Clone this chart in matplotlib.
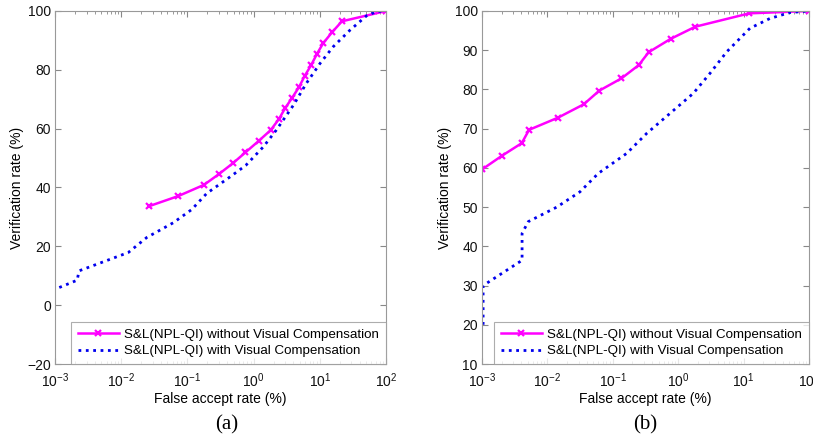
import matplotlib
matplotlib.use("Agg")
import matplotlib.pyplot as plt
from matplotlib.ticker import LogLocator, FixedLocator

# (a) without visual compensation
far_a_wo = [0.026, 0.073, 0.178, 0.297, 0.49, 0.75, 1.19, 1.81, 2.42, 2.98, 3.8,
            4.9, 5.9, 7.4, 9.0, 11.2, 15.5, 21.6, 100]
vr_a_wo = [33.6, 37.1, 40.9, 44.5, 48.3, 51.9, 55.8, 59.5, 63.3, 66.9, 70.4,
           74.3, 77.9, 81.6, 85.3, 89.0, 92.9, 96.5, 100]
# (a) with visual compensation
far_a_w = [0.00116, 0.00217, 0.00225, 0.00233, 0.0128, 0.0243, 0.061, 0.116, 0.196,
           0.44, 0.76, 1.4, 2.2, 4.0, 6.3, 10.1, 16, 28.6, 51, 72, 100]
vr_a_w = [6.0, 8.5, 10.5, 11.7, 17.9, 23.0, 28.0, 32.5, 38.0,
          43.6, 47.5, 53.8, 59.5, 68.0, 75.5, 82.2, 87.9, 93.5, 98.4, 99.8, 100]

# (b) without visual compensation
far_b_wo = [0.001, 0.00202, 0.00405, 0.00524, 0.0145, 0.0359, 0.0622, 0.135,
            0.249, 0.354, 0.767, 1.83, 12.2, 100]
vr_b_wo = [59.6, 63.1, 66.3, 69.7, 72.8, 76.2, 79.7, 82.8,
           86.2, 89.5, 92.9, 96.0, 99.4, 100]
# (b) with visual compensation
far_b_w = [0.00104, 0.00104, 0.00381, 0.0041, 0.0041, 0.0051, 0.0139, 0.0315, 0.06,
           0.163, 0.33, 0.75, 1.70, 3.06, 5.52, 12.5, 25.3, 51, 100]
vr_b_w = [20, 30, 36.1, 36.5, 43.3, 46.3, 50.0, 53.9, 58.6,
          63.7, 68.8, 73.9, 79.0, 84.1, 89.6, 95.6, 98.1, 99.6, 100]

yticks_a = [-20, 0, 20, 40, 60, 80, 100]
yticks_b = [10, 20, 30, 40, 50, 60, 70, 80, 90, 100]

label_wo = "S&L(NPL-QI) without Visual Compensation"
label_w = "S&L(NPL-QI) with Visual Compensation"

plt.rcParams['font.family'] = ['Liberation Sans', 'DejaVu Sans']
plt.rcParams['mathtext.fontset'] = 'custom'
plt.rcParams['mathtext.rm'] = 'Liberation Sans'
plt.rcParams['mathtext.it'] = 'Liberation Sans:italic'

fig = plt.figure(figsize=(8.13, 4.4), dpi=100)
ax_a = fig.add_axes([55 / 813, 76 / 440, 331 / 813, 353 / 440])
ax_b = fig.add_axes([482 / 813, 76 / 440, 327 / 813, 353 / 440])

panels = [
    (ax_a, far_a_wo, vr_a_wo, far_a_w, vr_a_w, yticks_a, "(a)", 0.008),
    (ax_b, far_b_wo, vr_b_wo, far_b_w, vr_b_w, yticks_b, "(b)", 0.0),
]

for ax, fx1, fy1, fx2, fy2, yt, tag, dx in panels:
    ax.semilogx(fx1, fy1, color='#ff00ff', lw=1.8, marker='x', ms=5, mew=1.6,
                label=label_wo)
    ax.semilogx(fx2, fy2, color='#0000ee', lw=2.0, linestyle=':', label=label_w)
    ax.set_xlim(1e-3, 1e2)
    ax.set_ylim(yt[0], yt[-1])
    ax.yaxis.set_major_locator(FixedLocator(yt))
    ax.xaxis.set_major_locator(LogLocator(base=10, numticks=10))
    ax.xaxis.set_minor_locator(LogLocator(base=10, subs=range(2, 10), numticks=10))
    ax.tick_params(which='both', direction='in', top=True, right=True,
                   color='#888888', labelsize=10, labelcolor='#111111')
    ax.tick_params(which='major', length=4, pad=3)
    ax.tick_params(axis='x', which='major', pad=5)
    ax.tick_params(which='minor', length=2)
    for s in ax.spines.values():
        s.set_color('#999999')
        s.set_linewidth(0.8)
    ax.set_xlabel('False accept rate (%)', fontsize=10, labelpad=2)
    ax.set_ylabel('Verification rate (%)', fontsize=10, labelpad=2)
    leg = ax.legend(loc='lower right', fontsize=9.6, frameon=True, fancybox=False,
                    borderaxespad=0, handlelength=3.1, handletextpad=0.4,
                    borderpad=0.5, labelspacing=0.3)
    leg.get_frame().set_edgecolor('#999999')
    leg.get_frame().set_linewidth(0.8)
    pos = ax.get_position()
    fig.text(pos.x0 + pos.width / 2 + dx, 15 / 440, tag,
             ha='center', va='center', fontsize=15,
             family=['Liberation Serif', 'DejaVu Serif'])

fig.savefig('out.png', dpi=100)
